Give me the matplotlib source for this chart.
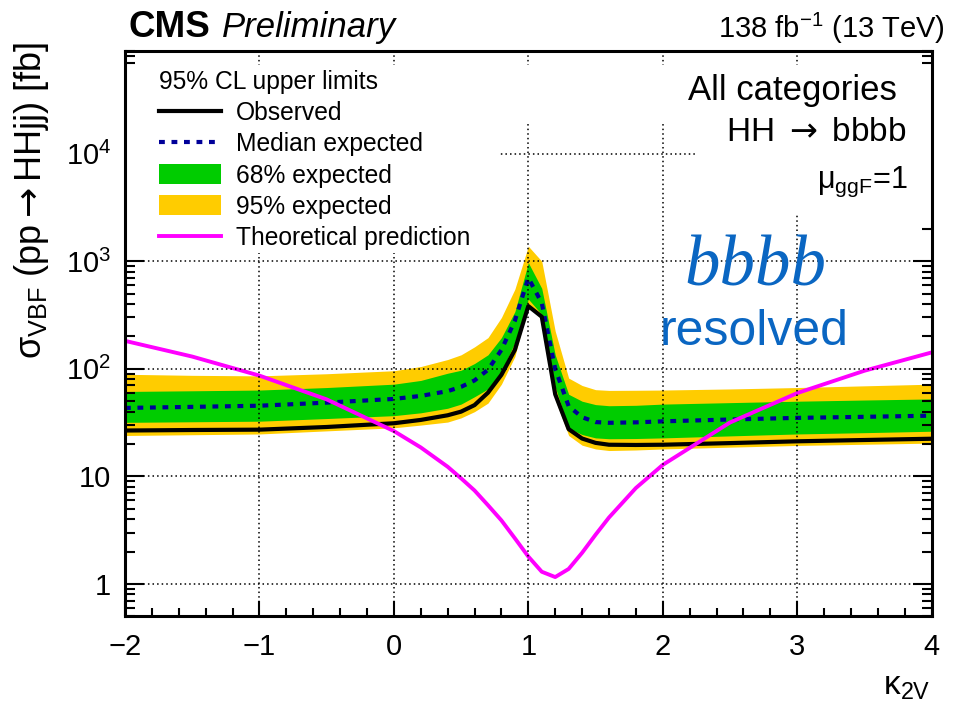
import matplotlib
matplotlib.use("Agg")
import matplotlib.pyplot as plt
from matplotlib.lines import Line2D
from matplotlib.patches import Patch, Rectangle

plt.rcParams['font.family'] = ['Liberation Sans', 'DejaVu Sans']
plt.rcParams['mathtext.fontset'] = 'custom'
plt.rcParams['mathtext.rm'] = 'Liberation Sans'
plt.rcParams['mathtext.it'] = 'Liberation Sans:italic'
plt.rcParams['mathtext.bf'] = 'Liberation Sans:bold'
plt.rcParams['mathtext.sf'] = 'DejaVu Sans'

# kappa_2V scan points and the limits on sigma_VBF [fb]
kappa = [-2.0, -1.5, -1.0, -0.5, 0.0, 0.2, 0.4, 0.5, 0.6, 0.7, 0.8, 0.9, 1.0,
         1.1, 1.2, 1.3, 1.4, 1.5, 1.6, 1.8, 2.0, 2.5, 3.0, 3.5, 4.0]
observed = [26.7, 27.0, 27.2, 28.8, 31.2, 33.5, 37.0, 40.0, 46.0, 60.0, 88.0, 150.0, 383.0,
            305.0, 58.0, 27.5, 22.5, 20.5, 19.7, 19.6, 19.7, 20.4, 21.2, 21.8, 22.4]
expected = [43.3, 44.3, 45.4, 48.5, 52.5, 56.0, 62.0, 68.0, 78.0, 98.0, 150.0, 280.0, 700.0,
            410.0, 100.0, 45.0, 35.5, 32.0, 31.5, 31.8, 32.5, 33.8, 35.0, 35.8, 36.7]
band68_lo = [31.8, 32.2, 32.6, 34.5, 36.7, 39.0, 43.0, 47.0, 55.0, 65.0, 95.0, 175.0, 445.0,
             320.0, 68.0, 28.0, 24.5, 22.8, 22.4, 22.5, 22.8, 23.8, 24.8, 25.5, 26.3]
band68_hi = [61.6, 62.5, 63.5, 67.0, 72.0, 78.0, 91.0, 97.0, 112.0, 135.0, 195.0, 340.0, 970.0,
             560.0, 135.0, 58.0, 50.0, 46.5, 45.4, 45.8, 47.0, 48.5, 50.0, 51.3, 52.5]
band95_lo = [24.0, 24.4, 24.8, 26.5, 28.3, 30.0, 32.0, 35.0, 40.0, 48.0, 72.0, 130.0, 400.0,
             285.0, 52.0, 24.0, 19.5, 18.0, 17.4, 17.6, 18.0, 18.7, 19.4, 19.9, 20.4]
band95_hi = [89.0, 87.0, 86.0, 90.0, 96.0, 105.0, 122.0, 135.0, 160.0, 195.0, 300.0, 550.0, 1380.0,
             1000.0, 224.0, 82.0, 70.0, 64.0, 63.0, 63.2, 63.5, 65.0, 67.0, 69.5, 72.0]
theory = [182.0, 130.0, 86.5, 52.0, 26.4, 18.6, 12.3, 9.6, 7.4, 5.4, 3.9, 2.66, 1.80,
          1.30, 1.16, 1.38, 1.95, 2.87, 4.15, 7.8, 12.8, 31.7, 59.5, 96.0, 142.0]

xticks = [-2, -1, 0, 1, 2, 3, 4]
yticks = [1, 10, 100, 1000, 10000]
ytick_labels = ['1', '10', r'$10^{2}$', r'$10^{3}$', r'$10^{4}$']

W, H = 959, 713


def fx(px):
    return px / W


def fy(py):
    return 1 - py / H


fig = plt.figure(figsize=(W / 100, H / 100), dpi=100)
ax = fig.add_axes([0.1303, 0.1355, 0.8412, 0.793])
ax.set_yscale('log')
ax.set_xlim(-2, 4)
ax.set_ylim(0.5, 9e4)

ax.fill_between(kappa, band95_lo, band95_hi, color='#ffcc00', lw=0, zorder=1)
ax.fill_between(kappa, band68_lo, band68_hi, color='#00cc00', lw=0, zorder=1.1)
ax.plot(kappa, expected, color='#000099', lw=3, ls=(0, (1.4, 1.6)), zorder=2)
ax.plot(kappa, observed, color='black', lw=3, zorder=2.05)
ax.plot(kappa, theory, color='#ff00ff', lw=2.8, zorder=2.1)

# dotted grid on top of the bands
for xv in xticks[1:-1]:
    ax.axvline(xv, color='black', lw=1.1, ls=(0, (1, 2)), zorder=2.2)
for yv in yticks:
    ax.axhline(yv, color='black', lw=1.1, ls=(0, (1, 2)), zorder=2.2)

# white backgrounds of the legend and the text boxes
for x0, y0, w, h in [(0.0, 0.643, 0.462, 0.332), (0.471, 0.877, 0.529, 0.098),
                     (0.709, 0.804, 0.291, 0.073), (0.80, 0.713, 0.20, 0.091)]:
    ax.add_patch(Rectangle((x0, y0), w, h, transform=ax.transAxes,
                           facecolor='white', edgecolor='none', zorder=2.4))

ax.set_xticks(xticks)
ax.set_yticks(yticks, ytick_labels)
ax.xaxis.set_minor_locator(matplotlib.ticker.MultipleLocator(0.2))
ax.yaxis.set_minor_locator(matplotlib.ticker.LogLocator(base=10, subs=range(2, 10), numticks=20))
ax.yaxis.set_minor_formatter(matplotlib.ticker.NullFormatter())
ax.tick_params(axis='x', which='major', direction='in', length=11, width=1.5,
               labelsize=21, pad=12)
ax.tick_params(axis='x', which='minor', direction='in', length=5.5, width=1.5)
ax.tick_params(axis='y', which='major', direction='in', length=14, width=1.5,
               labelsize=21, pad=10, right=True)
ax.tick_params(axis='y', which='minor', direction='in', length=7, width=1.5, right=True)
for sp in ax.spines.values():
    sp.set_linewidth(2.2)

handles = [Line2D([], [], color='black', lw=3),
           Line2D([], [], color='#000099', lw=3, ls=(0, (1.4, 1.6))),
           Patch(facecolor='#00cc00', edgecolor='none'),
           Patch(facecolor='#ffcc00', edgecolor='none'),
           Line2D([], [], color='#ff00ff', lw=2.8)]
labels = ['Observed', 'Median expected', '68% expected', '95% expected',
          'Theoretical prediction']
leg = ax.legend(handles, labels, title='95% CL upper limits', loc='upper left',
                bbox_to_anchor=(0.042, 0.966), frameon=False, fontsize=17.7,
                title_fontsize=17.7, alignment='left', handlelength=2.52,
                handleheight=0.9, handletextpad=0.6, labelspacing=0.29,
                borderpad=0, borderaxespad=0)
leg.set_zorder(5)

fig.text(fx(128), fy(37), 'CMS', fontsize=26.5, fontweight='bold', va='baseline')
fig.text(fx(222), fy(37), 'Preliminary', fontsize=25, style='italic', va='baseline')
fig.text(fx(945), fy(38), r'138 fb$^{-1}$ (13 TeV)', fontsize=21, ha='right', va='baseline')

fig.text(fx(897), fy(100), 'All categories', fontsize=25, ha='right', va='baseline')
fig.text(fx(907), fy(141), r'HH $\mathsf{\rightarrow}$ bbbb', fontsize=24, ha='right',
         va='baseline')
fig.text(fx(908), fy(188), r'$\mathrm{\mu_{ggF}}$=1', fontsize=22, ha='right', va='baseline')

fig.text(fx(755), fy(285), 'bbbb', fontsize=51, family='Liberation Serif', style='italic',
         color='#0a66c2', ha='center', va='baseline')
fig.text(fx(754), fy(345), 'resolved', fontsize=36, color='#0a66c2', ha='center', va='baseline')

fig.text(fx(32), fy(42), r'σ$_{\mathrm{VBF}}$ (pp$\mathsf{\rightarrow}$HHjj) [fb]', fontsize=26,
         rotation=90, ha='center', va='top')
fig.text(fx(930), fy(695), r'κ$_{\mathrm{2V}}$', fontsize=24, ha='right', va='baseline')

fig.savefig('out.png', dpi=100)
